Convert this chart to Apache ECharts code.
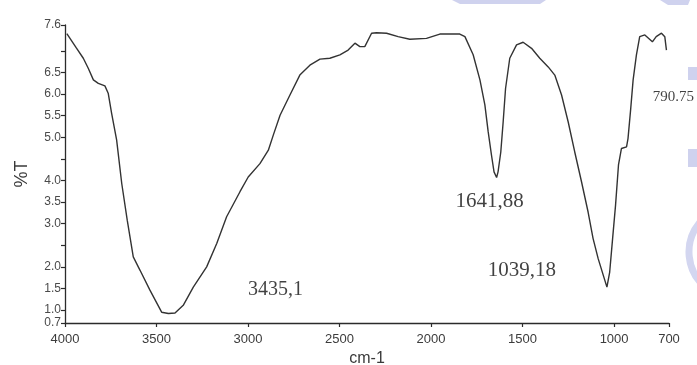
<!DOCTYPE html>
<html>
<head>
<meta charset="utf-8">
<title>FTIR spectrum</title>
<script src="https://cdn.jsdelivr.net/npm/echarts@6/dist/echarts.min.js"></script>
<style>
  html, body { margin: 0; padding: 0; background: #ffffff; }
  #chart { width: 697px; height: 365px; }
</style>
</head>
<body>
<div id="chart"></div>
<script>
// Wavenumber (cm-1) and transmittance (%T) of the spectrum trace
const wavenumbers = [
  3990, 3940, 3900, 3873, 3845, 3818, 3782, 3764, 3745, 3718,
  3690, 3660, 3627, 3590, 3536, 3472, 3435.1, 3399, 3354, 3299,
  3226, 3171, 3117, 3044, 2999, 2935, 2889, 2862, 2825, 2771,
  2717, 2662, 2607, 2553, 2498, 2453, 2416, 2389, 2362, 2325,
  2298, 2243, 2180, 2116, 2025, 1952, 1843, 1815, 1770, 1733,
  1706, 1688, 1670, 1656, 1641.88, 1634, 1619, 1606, 1593, 1570,
  1533, 1497, 1451, 1406, 1360, 1324, 1287, 1251, 1215, 1178,
  1142, 1115, 1087, 1039.18, 1024, 1008, 992, 976, 960, 932,
  924, 909, 896, 878, 860, 832, 790.75, 770, 741, 723, 714
];
const transmittance = [
  7.40, 7.08, 6.83, 6.60, 6.33, 6.25, 6.19, 6.02, 5.55, 4.94,
  3.93, 3.08, 2.23, 1.92, 1.46, 0.95, 0.92, 0.93, 1.11, 1.53,
  2.00, 2.54, 3.16, 3.74, 4.08, 4.39, 4.70, 5.05, 5.51, 5.98,
  6.44, 6.67, 6.81, 6.83, 6.91, 7.02, 7.18, 7.10, 7.10, 7.41,
  7.42, 7.41, 7.33, 7.27, 7.29, 7.39, 7.39, 7.33, 6.91, 6.33,
  5.75, 5.13, 4.59, 4.20, 4.07, 4.20, 4.66, 5.36, 6.13, 6.83,
  7.14, 7.20, 7.06, 6.83, 6.63, 6.44, 5.98, 5.36, 4.66, 3.97,
  3.27, 2.66, 2.19, 1.53, 1.88, 2.66, 3.43, 4.36, 4.74, 4.78,
  4.97, 5.67, 6.33, 6.91, 7.33, 7.37, 7.21, 7.33, 7.41, 7.33, 7.02
];

// Axis ticks
const xTickValues = [4000, 3500, 3000, 2500, 2000, 1500, 1000, 700];
const yLabelValues = [0.7, 1.0, 1.5, 2.0, 3.0, 3.5, 4.0, 5.0, 5.5, 6.0, 6.5, 7.6];
const yTickValues = [0.7, 1.0, 1.5, 2.0, 2.5, 3.0, 3.5, 4.0, 4.5, 5.0, 5.5, 6.0, 6.5, 7.0, 7.6];

// Band annotations: wavenumber, %T anchor, text
const bandWavenumbers = [3435.1, 1641.88, 1039.18, 790.75];
const bandTransmittance = [0.92, 4.07, 1.53, 7.21];
const bandTexts = ['3435,1', '1641,88', '1039,18', '790.75'];

// Placement of each band label relative to its band point (px) and its size
const bandOffsets = [[107, -24], [-7, 24], [-85, -17], [21, 55]];
const bandFontSizes = [20, 21, 21, 15];

const sans = "'Liberation Sans Narrow', 'Arial Narrow', 'Liberation Sans', Arial, sans-serif";
const serif = "'Liberation Serif', 'Times New Roman', serif";

const chart = echarts.init(document.getElementById('chart'), null, { renderer: 'canvas' });

const spectrum = wavenumbers.map((w, i) => [w, transmittance[i]]);

chart.setOption({
  backgroundColor: '#ffffff',
  animation: false,
  grid: { left: 65, right: 28, top: 25, bottom: 42, containLabel: false, outerBoundsMode: 'none' },
  xAxis: {
    type: 'value',
    inverse: true,
    min: 700,
    max: 4000,
    name: 'cm-1',
    nameLocation: 'middle',
    nameGap: 27,
    nameTextStyle: { fontFamily: sans, fontSize: 16, color: '#3a3a3a' },
    axisLine: { show: true, onZero: false, lineStyle: { color: '#2b2b2b', width: 1.3 } },
    axisTick: { show: true, length: 4, customValues: xTickValues, lineStyle: { color: '#2b2b2b', width: 1.2 } },
    axisLabel: {
      customValues: xTickValues,
      showMinLabel: true,
      showMaxLabel: true,
      hideOverlap: false,
      margin: 10,
      fontFamily: sans,
      fontSize: 13,
      color: '#3c3c3c',
      formatter: v => String(v)
    },
    splitLine: { show: false }
  },
  yAxis: {
    type: 'value',
    min: 0.7,
    max: 7.6,
    name: '%T',
    nameLocation: 'middle',
    nameGap: 34,
    nameTextStyle: { fontFamily: sans, fontSize: 18, color: '#3a3a3a' },
    axisLine: { show: true, onZero: false, lineStyle: { color: '#2b2b2b', width: 1.3 } },
    axisTick: { show: true, length: 4, customValues: yTickValues, lineStyle: { color: '#2b2b2b', width: 1.2 } },
    axisLabel: {
      customValues: yLabelValues,
      showMinLabel: true,
      showMaxLabel: true,
      hideOverlap: false,
      margin: 4,
      fontFamily: sans,
      fontSize: 12,
      color: '#4a4a4a',
      formatter: v => Number(v).toFixed(1)
    },
    splitLine: { show: false }
  },
  series: [
    {
      type: 'line',
      data: spectrum,
      showSymbol: false,
      smooth: false,
      lineStyle: { color: '#333333', width: 1.4 },
      z: 3
    },
    {
      type: 'scatter',
      symbolSize: 0,
      silent: true,
      z: 4,
      data: bandWavenumbers.map((w, i) => ({
        value: [w, bandTransmittance[i]],
        name: bandTexts[i],
        label: {
          show: true,
          position: 'inside',
          offset: bandOffsets[i],
          formatter: bandTexts[i],
          fontFamily: serif,
          fontSize: bandFontSizes[i],
          color: '#111111'
        }
      }))
    }
  ],
  graphic: [
    // faint lavender backdrop shapes along the top and right edges
    { type: 'polygon', silent: true, z: -10, shape: { points: [[452, 0], [546, 0], [540, 4], [460, 4]] }, style: { fill: '#cfd2ee' } },
    { type: 'polygon', silent: true, z: -10, shape: { points: [[660, 0], [690, 0], [688, 5], [668, 5]] }, style: { fill: '#cfd2ee' } },
    { type: 'rect', silent: true, z: -10, shape: { x: 688, y: 67, width: 9, height: 13 }, style: { fill: '#cfd2ee' } },
    { type: 'rect', silent: true, z: -10, shape: { x: 688, y: 149, width: 9, height: 18 }, style: { fill: '#cfd2ee' } },
    { type: 'arc', silent: true, z: -10, shape: { cx: 735, cy: 252, r: 46, startAngle: Math.PI * 0.72, endAngle: Math.PI * 1.28 }, style: { stroke: '#d3d6f0', lineWidth: 7, fill: null } }
  ]
});
</script>
</body>
</html>
